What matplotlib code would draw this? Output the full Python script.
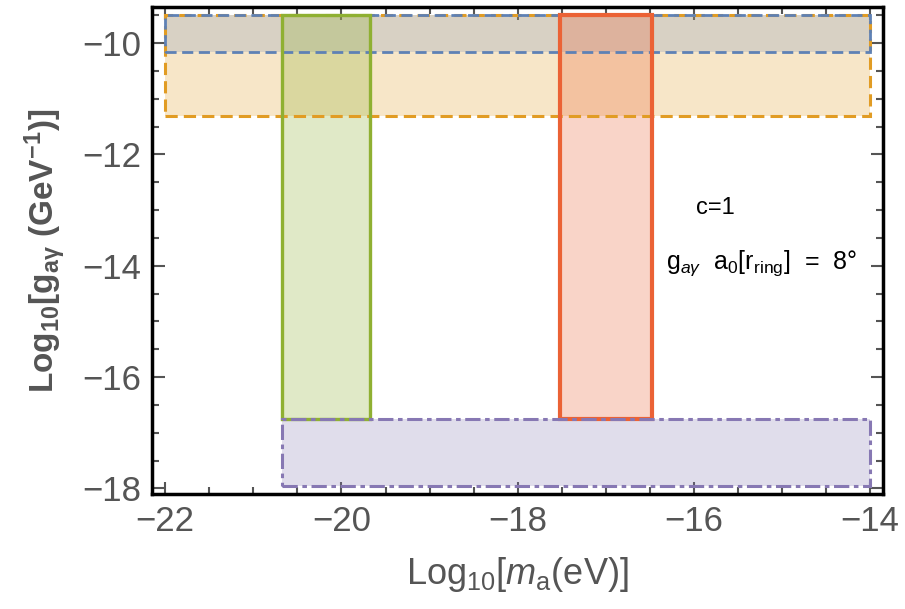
import matplotlib.pyplot as plt
from matplotlib.patches import Rectangle
from matplotlib.ticker import MultipleLocator

# Excluded / probed regions in (log10 m_a, log10 g_agamma)
region_x_lo = [-22.0, -22.0, -20.68, -17.52, -20.68]
region_x_hi = [-14.0, -14.0, -19.68, -16.48, -14.0]
region_y_lo = [-11.3, -10.16, -16.76, -16.76, -17.95]
region_y_hi = [-9.5, -9.5, -9.5, -9.5, -16.76]
region_colors = ['#E19C24', '#5E81B5', '#8FB032', '#EB6235', '#8778B3']
region_alpha = [0.25, 0.2, 0.27, 0.27, 0.25]
region_styles = [(0, (4, 2)), (0, (4, 2)), '-', '-', (0, (5, 1.5, 1.5, 1.5))]
region_widths = [2.2, 2.0, 2.4, 3.0, 2.2]

x_ticks = [-22, -20, -18, -16, -14]
y_ticks = [-18, -16, -14, -12, -10]

plt.rcParams['font.family'] = ['Liberation Sans', 'DejaVu Sans']
plt.rcParams['mathtext.fontset'] = 'custom'
plt.rcParams['mathtext.rm'] = 'Liberation Sans'
plt.rcParams['mathtext.it'] = 'Liberation Sans:italic'
plt.rcParams['mathtext.bf'] = 'Liberation Sans:bold'

fig = plt.figure(figsize=(9.05, 6.09), dpi=100)
ax = fig.add_axes([0.168, 0.189, 0.808, 0.7995])

for xl, xh, yl, yh, c, a, ls, lw in zip(region_x_lo, region_x_hi, region_y_lo,
                                        region_y_hi, region_colors, region_alpha,
                                        region_styles, region_widths):
    ax.add_patch(Rectangle((xl, yl), xh - xl, yh - yl, facecolor=c, alpha=a,
                           edgecolor='none', zorder=2))
    ax.add_patch(Rectangle((xl, yl), xh - xl, yh - yl, facecolor='none',
                           edgecolor=c, linestyle=ls, linewidth=lw, zorder=3))

ax.text(-15.98, -12.97, 'c=1', fontsize=17, va='center', ha='left')
ax.text(-16.32, -13.96, r'g$_{a\gamma}$  a$_0$[r$_{\rm ring}$]  =  8°', fontsize=18,
        va='center', ha='left')

ax.set_xlim(-22.15, -13.85)
ax.set_ylim(-18.1, -9.35)
ax.set_xticks(x_ticks)
ax.set_yticks(y_ticks)
ax.set_xticklabels(['\u2212%d' % abs(v) for v in x_ticks])
ax.set_yticklabels(['\u2212%d' % abs(v) for v in y_ticks])
ax.xaxis.set_minor_locator(MultipleLocator(0.5))
ax.yaxis.set_minor_locator(MultipleLocator(0.5))
ax.tick_params(which='both', direction='in', top=True, right=True,
               color='#555555', width=1.5)
ax.tick_params(which='major', length=9, labelsize=25, labelcolor='#555555', pad=8)
ax.tick_params(which='minor', length=5)
for sp in ax.spines.values():
    sp.set_linewidth(2.5)
    sp.set_color('black')

ax.set_xlabel(r'Log$_{10}$[$m_{\rm a}$(eV)]', fontsize=26, color='#555555', labelpad=12)
ax.set_ylabel(r'Log$_{\mathbf{10}}$[g$_{\mathbf{a\gamma}}$ (GeV$^{\mathbf{-1}}$)]',
              fontsize=24, color='#555555', labelpad=10, fontweight='bold')

fig.savefig('out.png', dpi=100)
